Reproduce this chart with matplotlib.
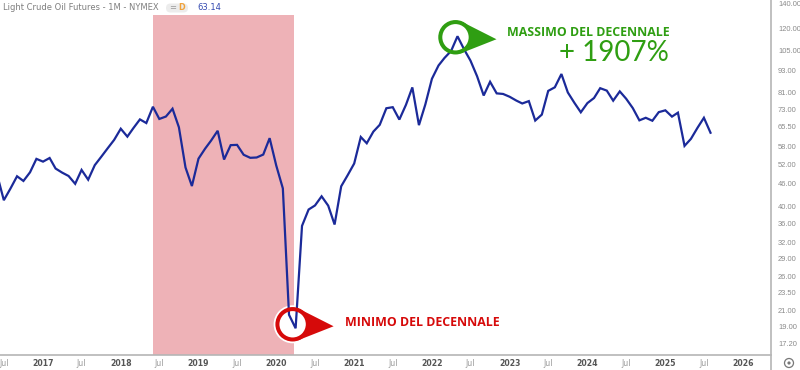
import datetime as dt
import matplotlib
matplotlib.use("Agg")
import matplotlib.pyplot as plt
import matplotlib.dates as mdates
import pandas as pd
from matplotlib.patches import Circle, Polygon, FancyBboxPatch
from matplotlib.lines import Line2D
from matplotlib.transforms import IdentityTransform
from matplotlib.ticker import FixedLocator, NullLocator, FixedFormatter

# monthly closes, Jun 2016 -> Aug 2025
first_month = "2016-06-01"
prices = [48.33, 41.60, 44.70, 48.24, 46.86, 49.44, 53.72,
          52.81, 54.01, 50.60, 49.33, 48.32, 46.04, 50.17, 47.23, 51.67, 54.38, 57.40, 60.42,
          64.73, 61.64, 64.94, 68.57, 67.04, 74.15, 68.76, 69.80, 73.25, 65.31, 50.93, 45.41,
          53.79, 57.22, 60.14, 63.91, 53.50, 58.47, 58.58, 55.10, 54.07, 54.18, 55.17, 61.06,
          51.56, 44.76, 20.48, 18.84, 35.49, 39.27, 40.27, 42.61, 40.22, 35.79, 45.34, 48.52,
          52.20, 61.50, 59.16, 63.58, 66.32, 73.47, 73.95, 68.50, 75.03, 83.57, 66.18, 75.21,
          88.15, 95.72, 100.28, 104.69, 114.67, 105.76, 98.62, 89.55, 79.49, 86.53, 80.55, 80.26,
          78.87, 77.05, 75.67, 76.78, 68.09, 70.64, 81.80, 83.63, 90.79, 81.02, 75.96, 71.65,
          75.85, 78.26, 83.17, 81.93, 76.99, 81.54, 77.91, 73.55, 68.17, 69.26, 68.00, 71.72,
          72.53, 69.76, 71.48, 58.21, 60.79, 65.11, 69.26, 63.14]

y_ticks = [17.20, 19.00, 21.00, 23.50, 26.00, 29.00, 32.00, 36.00, 40.00, 46.00,
           52.00, 58.00, 65.50, 73.00, 81.00, 93.00, 105.00, 120.00, 140.00]
x_tick_dates = ["2016-07-01"] + [f"{y}-{m:02d}-01" for y in range(2017, 2026) for m in (1, 7)] + ["2026-01-01"]
x_tick_labels = ["Jul"] + [str(y) if m == 1 else "Jul" for y in range(2017, 2026) for m in (1, 7)] + ["2026"]

shade_start, shade_end = "2018-06-01", "2020-03-25"
title = "Light Crude Oil Futures - 1M - NYMEX"
last_price = "63.14"

LINE = "#1b2a99"
GREEN = "#2f9e12"
RED = "#d60a0a"
PINK = "#eeb2b7"
GRID = "#b5b5b5"

W, H = 800, 370
fig = plt.figure(figsize=(W / 100, H / 100), dpi=100)
ax = fig.add_axes([0, 15 / H, 771 / W, 355 / H])

dates = pd.date_range(first_month, periods=len(prices), freq="MS")
ax.set_yscale("log")
ax.set_ylim(15.97, 143.5)
ax.set_xlim(dt.datetime(2016, 6, 13), dt.datetime(2026, 5, 12))

ax.axvspan(pd.Timestamp(shade_start), pd.Timestamp(shade_end), ymin=0, ymax=340 / 355,
           color=PINK, lw=0, zorder=1)
ax.plot(dates, prices, color=LINE, lw=1.6, zorder=3, solid_joinstyle="miter")

# axes styling
for s in ("top", "left", "right"):
    ax.spines[s].set_visible(False)
ax.spines["bottom"].set_color(GRID)
ax.spines["bottom"].set_linewidth(1.2)
ax.set_facecolor("none")

ax.yaxis.tick_right()
ax.yaxis.set_major_locator(FixedLocator(y_ticks))
ax.yaxis.set_minor_locator(NullLocator())
ax.yaxis.set_major_formatter(FixedFormatter([f"{v:.2f}" for v in y_ticks]))
ax.tick_params(axis="y", length=0, pad=5, labelsize=5.4, labelcolor="#8a8a8a")
for lbl in ax.get_yticklabels():
    lbl.set_family("Liberation Sans")

ax.xaxis.set_major_locator(FixedLocator(mdates.date2num(pd.to_datetime(x_tick_dates))))
ax.xaxis.set_minor_locator(NullLocator())
ax.set_xticklabels(x_tick_labels)
ax.tick_params(axis="x", length=0, pad=3, labelsize=5.6)
for lbl in ax.get_xticklabels():
    if lbl.get_text() == "Jul":
        lbl.set_color("#9a9a9a")
    else:
        lbl.set_color("#555555")
        lbl.set_fontweight("bold")

# overlay in pixel coords
ov = fig.add_axes([0, 0, 1, 1], zorder=5)
ov.set_xlim(0, W)
ov.set_ylim(0, H)
ov.axis("off")
ov.patch.set_alpha(0)

ov.add_line(Line2D([771, 771], [0, H], color=GRID, lw=1.2))

# title row
ov.text(3, H - 8, title, fontsize=6.0, color="#7f7f7f", va="center", ha="left")
ov.add_patch(FancyBboxPatch((166, H - 12.5), 22, 9, boxstyle="round,pad=0,rounding_size=4.5",
                            fc="#ececec", ec="none"))
ov.text(173, H - 8, "=", fontsize=6, color="#999999", va="center", ha="center")
ov.text(182, H - 8, "D", fontsize=5.8, color="#f0a23a", va="center", ha="center", fontweight="bold")
ov.text(197, H - 8, last_price, fontsize=6.0, color="#3349b0", va="center", ha="left")

# settings icon
ov.add_patch(Circle((789, 7), 4.5, fc="none", ec="#777777", lw=0.9))
ov.add_patch(Circle((789, 7), 1.6, fc="#777777", ec="none"))


def pin(px, py, color, r=17):
    px_t = IdentityTransform()
    # white halo, arrow, white inside, then the price line (z=3), then the ring
    ax.add_patch(Circle((px, py), r + 2, transform=px_t, fc="white", ec="none", zorder=1.5, clip_on=False))
    ax.add_patch(Polygon([(px + r * 0.3, py + r * 0.95), (px + r * 0.3, py - r * 0.95), (px + r + 24, py - 2)],
                         closed=True, transform=px_t, fc=color, ec="none", zorder=2, clip_on=False))
    ax.add_patch(Circle((px, py), r - 3, transform=px_t, fc="white", ec="none", zorder=2.5, clip_on=False))
    ax.add_patch(Circle((px, py), r - 1.8, transform=px_t, fc="none", ec=color, lw=2.9, zorder=4, clip_on=False))


fig.canvas.draw()
i_max = prices.index(max(prices))
i_min = prices.index(min(prices))
hx, hy = ax.transData.transform((mdates.date2num(dates[i_max]), prices[i_max]))
lx, ly = ax.transData.transform((mdates.date2num(dates[i_min]), prices[i_min]))

pin(hx - 2, hy - 1, GREEN)
ov.text(507, H - 33, "MASSIMO DEL DECENNALE", fontsize=8.9, color=GREEN, fontweight="bold",
        family="Open Sans", va="center", ha="left")
ov.text(669, H - 53, "+ 1907%", fontsize=20, color=GREEN, fontweight="normal",
        family="Lato", va="center", ha="right")

pin(lx - 3, ly + 4, RED)
ov.text(345, H - 322, "MINIMO DEL DECENNALE", fontsize=8.9, color=RED, fontweight="bold",
        family="Open Sans", va="center", ha="left")

fig.savefig("out.png", dpi=100)
